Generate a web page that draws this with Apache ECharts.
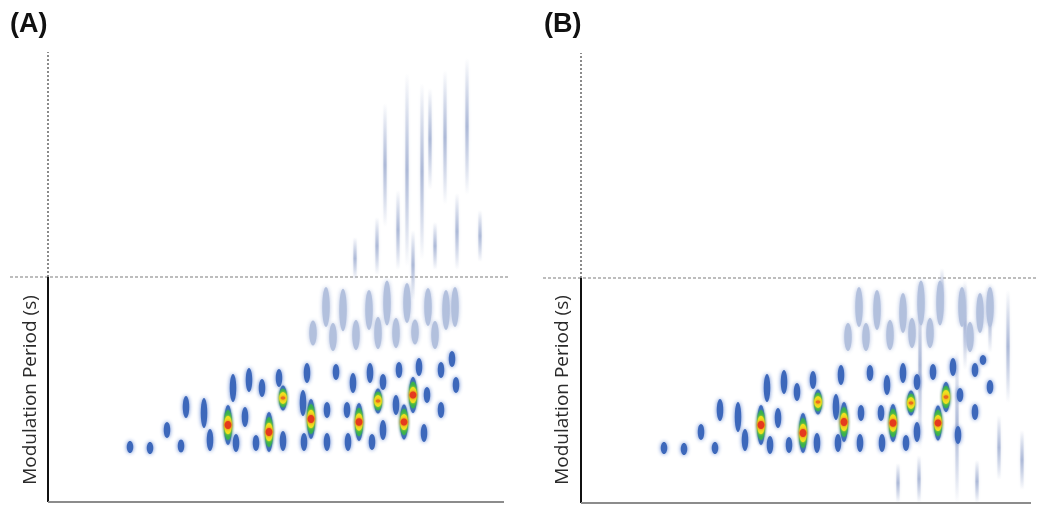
<!DOCTYPE html>
<html>
<head>
<meta charset="utf-8">
<script src="https://cdn.jsdelivr.net/npm/echarts@6/dist/echarts.min.js"></script>
<style>
  html, body { margin: 0; background: #fff; }
  #chart { width: 1037px; height: 506px; }
</style>
</head>
<body>
<div id="chart"></div>
<script>
// x = first dimension retention (min), y = second dimension (s), w = peak width in 2nd dim (s)
const PERIOD = 4.5;     // modulation period, dashed line
const T2_MAX = 9;

// ---- panel A ----
const peaksA = [
  [8.2, 1.10, 0.24], [10.2, 1.08, 0.24], [13.3, 1.12, 0.26], [16.2, 1.24, 0.44],
  [18.8, 1.18, 0.36], [20.8, 1.18, 0.32], [23.5, 1.22, 0.40], [25.6, 1.20, 0.36],
  [27.9, 1.20, 0.36], [30.0, 1.20, 0.36], [32.4, 1.20, 0.32], [33.5, 1.44, 0.40],
  [37.6, 1.38, 0.36], [11.9, 1.44, 0.32], [13.8, 1.90, 0.44], [15.6, 1.78, 0.60],
  [18.5, 2.28, 0.56], [19.7, 1.70, 0.40], [20.1, 2.44, 0.48], [21.4, 2.28, 0.36],
  [23.1, 2.48, 0.36], [25.5, 1.98, 0.52], [25.9, 2.58, 0.40], [27.9, 1.84, 0.32],
  [28.8, 2.60, 0.32], [29.9, 1.84, 0.32], [30.5, 2.38, 0.40], [32.2, 2.58, 0.40],
  [33.5, 2.40, 0.32], [34.8, 1.94, 0.40], [35.1, 2.64, 0.32], [37.1, 2.70, 0.36],
  [37.9, 2.14, 0.32], [39.3, 1.84, 0.32], [39.3, 2.64, 0.32], [40.4, 2.86, 0.32],
  [40.8, 2.34, 0.32]
];
const hotA = [
  [18.0, 1.54, 0.80, 4], [22.1, 1.40, 0.80, 4], [23.5, 2.08, 0.50, 3], [26.3, 1.66, 0.80, 4],
  [31.1, 1.60, 0.76, 4], [33.0, 2.02, 0.50, 3], [35.6, 1.60, 0.70, 4], [36.5, 2.14, 0.72, 4]
];
const paleA = [
  [26.5, 3.38, 0.50], [27.8, 3.90, 0.80], [28.5, 3.30, 0.56], [29.5, 3.84, 0.85],
  [30.8, 3.34, 0.60], [32.1, 3.84, 0.80], [33.0, 3.38, 0.64], [33.9, 3.98, 0.90],
  [34.8, 3.38, 0.60], [35.9, 3.98, 0.80], [36.7, 3.40, 0.50], [38.0, 3.90, 0.76],
  [38.7, 3.34, 0.56], [39.8, 3.84, 0.80], [40.7, 3.90, 0.80]
];
const streaksA = [
  [30.7, 5.30, 4.44], [32.9, 5.70, 4.54], [33.7, 7.98, 5.50], [35.0, 6.24, 4.64],
  [35.9, 8.58, 4.70], [36.5, 5.44, 4.04], [37.4, 8.38, 4.84], [38.2, 8.28, 6.24],
  [38.7, 5.60, 4.64], [39.7, 8.64, 5.94], [40.9, 6.18, 4.64], [41.9, 8.88, 6.14],
  [43.2, 5.84, 4.80]
];

// ---- panel B ----
const peaksB = [
  [8.3, 1.10, 0.24], [10.3, 1.08, 0.24], [13.4, 1.10, 0.24], [16.4, 1.26, 0.44],
  [18.9, 1.16, 0.36], [20.8, 1.16, 0.32], [23.6, 1.20, 0.40], [25.7, 1.20, 0.36],
  [27.9, 1.20, 0.36], [30.1, 1.20, 0.36], [32.5, 1.20, 0.32], [33.6, 1.42, 0.40],
  [37.7, 1.36, 0.36], [12.0, 1.42, 0.32], [13.9, 1.86, 0.44], [15.7, 1.72, 0.60],
  [18.6, 2.30, 0.56], [19.7, 1.70, 0.40], [20.3, 2.42, 0.48], [21.6, 2.22, 0.36],
  [23.2, 2.46, 0.36], [25.5, 1.92, 0.52], [26.0, 2.56, 0.40], [28.0, 1.80, 0.32],
  [28.9, 2.60, 0.32], [30.0, 1.80, 0.32], [30.6, 2.36, 0.40], [32.2, 2.60, 0.40],
  [33.6, 2.42, 0.32], [35.2, 2.62, 0.32], [37.2, 2.72, 0.36], [37.9, 2.16, 0.28],
  [39.4, 1.82, 0.32], [39.4, 2.66, 0.28], [40.2, 2.86, 0.20], [40.9, 2.32, 0.28]
];
const hotB = [
  [18.0, 1.56, 0.80, 4], [22.2, 1.40, 0.80, 4], [23.7, 2.02, 0.50, 3], [26.3, 1.62, 0.80, 4],
  [31.2, 1.60, 0.76, 4], [33.0, 2.00, 0.50, 3], [35.7, 1.60, 0.70, 4], [36.5, 2.12, 0.60, 3]
];
const paleB = [
  [26.7, 3.32, 0.56], [27.8, 3.92, 0.80], [28.5, 3.32, 0.56], [29.6, 3.86, 0.80],
  [30.9, 3.36, 0.60], [32.2, 3.80, 0.80], [33.1, 3.40, 0.60], [34.0, 4.00, 0.90],
  [34.9, 3.40, 0.60], [35.9, 4.00, 0.90], [38.1, 3.92, 0.80], [38.9, 3.32, 0.60],
  [39.9, 3.80, 0.80], [40.9, 3.92, 0.80]
];
const streaksB = [
  [31.7, 0.80, 0.0], [33.8, 0.96, 0.0], [33.9, 4.46, 1.06], [36.1, 4.70, 3.66],
  [37.6, 3.06, 0.0], [38.4, 4.46, 2.66], [39.6, 0.86, 0.0], [40.9, 4.40, 3.00],
  [41.8, 1.76, 0.46], [42.7, 4.26, 2.00], [44.1, 1.46, 0.26]
];

const chart = echarts.init(document.getElementById('chart'));

function blob(w1, fill, glow) {
  return function (params, api) {
    const c = api.coord([api.value(0), api.value(1)]);
    const s = api.size([w1, api.value(2)]);
    return {
      type: 'ellipse',
      shape: { cx: c[0], cy: c[1], rx: s[0] / 2, ry: s[1] / 2 },
      style: { fill: fill, shadowBlur: 4, shadowColor: glow }
    };
  };
}

// intensity bands of the big peaks: blue rim, green, yellow, red core
function hot(params, api) {
  const c = api.coord([api.value(0), api.value(1)]);
  const s = api.size([0.8, api.value(2)]);
  const lvl = api.value(3);
  const layers = [
    [1.0, 1.0, '#3f6bbf'],
    [1.0, 0.74, '#38b24c'],
    [0.95, 0.46, '#f0e11e'],
    lvl > 3 ? [0.85, 0.2, '#e53a1d'] : [0.6, 0.12, '#ea6a1e']
  ];
  return {
    type: 'group',
    children: layers.map(function (l) {
      return {
        type: 'ellipse',
        shape: { cx: c[0], cy: c[1], rx: s[0] / 2 * l[0], ry: s[1] / 2 * l[1] },
        style: { fill: l[2], shadowBlur: 3, shadowColor: l[2] }
      };
    })
  };
}

function streak(params, api) {
  const p0 = api.coord([api.value(0), api.value(1)]);
  const p1 = api.coord([api.value(0), api.value(2)]);
  return {
    type: 'rect',
    shape: { x: p0[0] - 1.6, y: p0[1], width: 3.2, height: p1[1] - p0[1] },
    style: {
      fill: new echarts.graphic.LinearGradient(0, 0, 0, 1, [
        { offset: 0, color: 'rgba(165,178,212,0)' },
        { offset: 0.5, color: 'rgba(150,166,205,0.7)' },
        { offset: 1, color: 'rgba(165,178,212,0)' }
      ]),
      shadowBlur: 3,
      shadowColor: 'rgba(160,175,210,0.6)'
    }
  };
}

function line(idx, data, color, width, type) {
  return {
    type: 'line', xAxisIndex: idx, yAxisIndex: idx, data: data,
    symbol: 'none', silent: true, clip: false, z: 1,
    lineStyle: { color: color, width: width, type: type }
  };
}

function panel(idx, xEnd, peaks, hots, pales, streaks) {
  return [
    line(idx, [[-3.8, PERIOD], [xEnd, PERIOD]], '#a8a8a8', 1.5, [3, 2]),
    line(idx, [[0, PERIOD], [0, T2_MAX]], '#666', 1.5, [2, 2]),
    line(idx, [[0, 0], [0, PERIOD]], '#111', 2, 'solid'),
    line(idx, [[0, 0], [xEnd - 0.6, 0]], '#8c8c8c', 2, 'solid'),
    { type: 'custom', xAxisIndex: idx, yAxisIndex: idx, data: streaks, renderItem: streak, silent: true, clip: false, z: 2 },
    { type: 'custom', xAxisIndex: idx, yAxisIndex: idx, data: pales, renderItem: blob(0.75, '#b2c0dd', 'rgba(170,185,222,0.9)'), silent: true, z: 3 },
    { type: 'custom', xAxisIndex: idx, yAxisIndex: idx, data: peaks, renderItem: blob(0.65, '#3d68bb', 'rgba(80,120,205,0.9)'), silent: true, z: 4 },
    { type: 'custom', xAxisIndex: idx, yAxisIndex: idx, data: hots, renderItem: hot, silent: true, z: 5 }
  ];
}

const option = {
  animation: false,
  backgroundColor: '#fff',
  grid: [
    { left: 8, top: 52, width: 502, height: 450 },
    { left: 541, top: 53, width: 496, height: 450 }
  ],
  xAxis: [
    { gridIndex: 0, type: 'value', min: -4, max: 46.2, show: false },
    { gridIndex: 1, type: 'value', min: -4, max: 45.6, show: false }
  ],
  yAxis: [
    { gridIndex: 0, type: 'value', min: 0, max: T2_MAX, show: false },
    { gridIndex: 1, type: 'value', min: 0, max: T2_MAX, show: false }
  ],
  graphic: [
    { type: 'text', left: 10, top: 11, style: { text: '(A)', font: 'bold 27px "Liberation Sans", Arial', fill: '#111' } },
    { type: 'text', left: 544, top: 11, style: { text: '(B)', font: 'bold 27px "Liberation Sans", Arial', fill: '#111' } },
    { type: 'text', x: 31, y: 390, rotation: Math.PI / 2,
      style: { text: 'Modulation Period (s)', font: '19px "Open Sans"', fill: '#2a2a2a', align: 'center', verticalAlign: 'middle' } },
    { type: 'text', x: 563, y: 390, rotation: Math.PI / 2,
      style: { text: 'Modulation Period (s)', font: '19px "Open Sans"', fill: '#2a2a2a', align: 'center', verticalAlign: 'middle' } }
  ],
  series: [].concat(
    panel(0, 46.2, peaksA, hotA, paleA, streaksA),
    panel(1, 45.6, peaksB, hotB, paleB, streaksB)
  )
};

chart.setOption(option);
</script>
</body>
</html>
